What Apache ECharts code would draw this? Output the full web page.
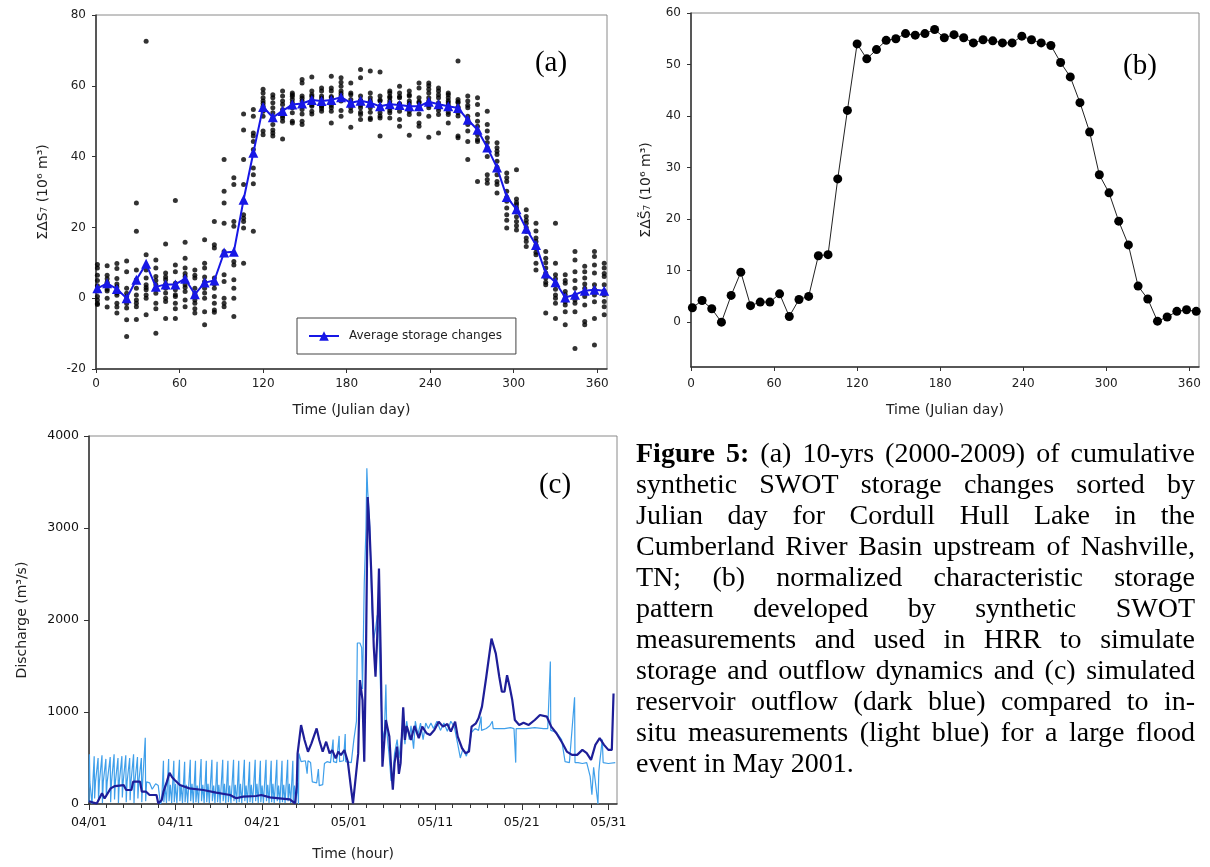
<!DOCTYPE html>
<html><head><meta charset="utf-8">
<script src="https://cdn.jsdelivr.net/npm/echarts@6/dist/echarts.min.js"></script>
<style>html,body{margin:0;padding:0;background:#fff}#main{width:1210px;height:867px}</style>
</head><body><div id="main"></div>
<script>
// ---------- DATA ----------
// Julian day of each 7-day bin (panels a, b)
const binDays = [1,8,15,22,29,36,43,50,57,64,71,78,85,92,99,106,113,120,127,134,141,148,155,162,169,176,183,190,197,204,211,218,225,232,239,246,253,260,267,274,281,288,295,302,309,316,323,330,337,344,351,358,365];
// average storage change per bin (10^6 m3)
const avgStorage = [2.8,4.2,2.6,0,5.2,9.7,3.2,3.9,3.9,5.5,1.1,4.4,5.0,12.9,13.1,27.8,41.1,54.0,51.1,52.9,54.7,55.0,56.0,55.7,56.0,56.8,55.2,55.8,55.2,54.2,54.8,54.6,54.2,54.2,55.5,54.8,54.2,53.7,50.4,47.6,42.6,36.9,28.6,25.1,19.6,15.0,7.0,4.5,0.2,1.0,2.1,2.4,2.1];
// normalized characteristic storage pattern (b)
const normPattern = [2.8,4.2,2.6,0,5.2,9.7,3.2,3.9,3.9,5.5,1.1,4.4,5.0,12.9,13.1,27.8,41.1,54.0,51.1,52.9,54.7,55.0,56.0,55.7,56.0,56.8,55.2,55.8,55.2,54.2,54.8,54.6,54.2,54.2,55.5,54.8,54.2,53.7,50.4,47.6,42.6,36.9,28.6,25.1,19.6,15.0,7.0,4.5,0.2,1.0,2.1,2.4,2.1];
// yearly (2000-2009) values per bin
const yearlyByBin = [
[9.5,8.5,6.5,5,3.5,2,0.5,-0.5,-1.5,-1.8],
[9.2,6.5,5.5,4.5,4,3.5,2.5,2,0,-2.5],
[9.8,8.4,5.6,4,3.2,1.5,0.8,-1.4,-2.5,-4.2],
[10.5,7.5,2.8,1.4,0.5,-0.5,-1.5,-2.8,-6.1,-10.8],
[26.9,18.9,8,5.2,2.8,0.9,-0.5,-1.4,-2.4,-6],
[72.6,12.3,8,5.7,3.8,3,2.4,0.9,0,-4.7],
[10.8,8.5,6.1,5,3.8,2.5,1.4,-1.4,-3,-9.9],
[15.3,7.1,6,5.2,4,2.8,1.5,0,-0.9,-5.7],
[27.6,9.4,7.5,4.2,2.4,1,0.5,-1.4,-3,-5.7],
[15.8,11.3,8.5,7,6.1,3.8,3,1.9,-0.5,-2.4],
[8,6.5,5.7,2.8,1.5,0.9,-0.5,-1.4,-3,-4.2],
[16.5,9.9,8.5,6,4.7,2.8,1.5,0,-3.8,-7.5],
[21.7,15.1,14.2,5.7,4,2.8,0.5,-1.4,-3.3,-4],
[39.2,30.2,26.9,21.2,13.2,6.6,4.7,0,-1.4,-2.4],
[34,32.1,21.7,20.3,10.4,9.4,5.2,2.8,0,-5.2],
[52,47.5,39.2,32.1,27.4,23.6,22.6,21.7,19.8,9.9],
[53.3,51.4,46.7,45.8,44.3,42,36.8,34.9,32.3,18.9],
[59,58,56.6,55.7,55,54.2,52.8,51.4,47.2,46.2],
[57.5,56.6,55.2,53.8,52.4,50.9,49.1,47.5,46.7,45.8],
[58.5,57.1,55.7,54.7,53.3,52.4,51.5,50.9,50,45],
[58,57.5,57,56.1,55.2,54.5,53.8,52.4,50,49.5],
[61.8,60.8,57.1,56.5,55.7,54.2,53.3,52,50,49.1],
[62.5,58.5,57.5,57,56.1,55.2,54.6,54.2,52.8,52],
[59.4,58.5,57.1,56.5,55.7,55,54.2,53.5,52.8,54.3],
[62.7,59.4,58.5,57,56.6,55.2,54.5,53.8,52.8,49.5],
[62.3,61,59.9,58.5,57.8,57.1,56.5,55.7,53,51.4],
[60.8,58,57.5,56.1,55.2,55,54.5,53.8,52.8,48.3],
[64.6,62.3,57.1,56,55.7,54.5,53.8,52.5,51.9,50.5],
[64.2,58,56.6,55.8,55.2,54.5,53.8,52.5,50.9,50.5],
[63.9,57.1,56,55.7,54.2,53.5,52.4,51.5,50.9,45.8],
[58.5,58,57,56.6,55.7,55,53.8,53,52.4,50.9],
[59.9,58,57,56.6,55,54.7,54,52.8,50.5,48.6],
[58.5,57.5,57.1,55.7,55,54.2,53.5,52.8,51.9,46],
[60.8,59.4,56.6,55.5,55.2,54,53.8,52,49.5,48.6],
[60.8,60,59,58,56.6,55.7,54.5,53.8,51.4,45.5],
[59.4,58.5,57.5,56.6,55.2,54.5,53.8,53,51.9,46.7],
[58,57.5,56.6,55.8,55.2,54.5,53.8,52.5,51.9,49.5],
[67,56.1,55.5,55.2,54,53.8,52.4,51.5,45.8,45.3],
[57.1,55.7,54.5,53.8,51.4,50.5,49.1,47.2,44.3,39.2],
[56.6,54.7,51.9,50,48.6,47,46.2,44.8,44.3,33],
[52.8,49.1,47.2,45.3,44,42.5,40,34.9,33.5,32.5],
[43.9,42.5,41.5,40.6,38.7,37,34.9,33,32.1,29.7],
[35.4,34,33,30.2,28.5,27.4,25.5,23.6,22,19.8],
[36.3,28,27,26.4,25.5,24.5,23,21.7,20.5,19.3],
[25,23.1,22,21.2,20,19,18.9,17,16,14.6],
[21.2,19,17,16,15,14.2,13,12.3,9.9,8],
[13.2,11.3,10,8.5,7.1,6.5,5.7,4.5,3.8,-4.2],
[21.2,9.9,6.6,5.5,3.8,2.5,0.9,0,-1.4,-5.7],
[6.6,5,4.2,1.9,1,0,-1,-1.9,-3.8,-7.5],
[13.2,10.8,7.5,5,2.8,0.9,-0.5,-1.4,-3.8,-14.2],
[9,7.5,5.7,4,2.8,1.5,0.5,-1.9,-6.6,-7.5],
[13.2,11.8,9.4,7.1,3.8,2.5,0.9,-1,-5.7,-13.2],
[9.9,8.5,7,6.1,3.8,2,0.9,-0.9,-2.4,-4.7]
];
const dayTicks = [0,60,120,180,240,300,360];
const bYTicks = [0,10,20,30,40,50,60];
// panel (c): [days since 04/01 00:00, discharge m3/s]
const measuredFlow = [
[0,20],[0.05,540],[0.1,240],[0.3,240],[0.35,0],[0.45,240],[0.6,520],[0.65,60],[0.75,240],
[1.05,500],[1.1,30],[1.2,240],[1.5,530],[1.55,10],[1.65,240],[1.95,490],[2.0,80],[2.1,240],
[2.45,510],[2.5,20],[2.6,240],[2.9,540],[2.95,50],[3.05,240],[3.35,500],[3.4,10],[3.5,240],
[3.8,520],[3.85,70],[3.95,240],[4.25,530],[4.3,20],[4.4,240],[4.7,500],[4.75,40],[4.85,240],
[5.15,540],[5.2,10],[5.3,240],[5.6,510],[5.65,60],[5.75,240],[6.05,500],[6.1,20],[6.2,240],
[6.5,720],[6.55,30],[6.65,240],[7.0,230],[7.3,160],[7.7,220],[8.0,200],[8.25,0],[8.4,30],
[8.6,470],[8.65,20],[8.8,200],[8.95,10],[9.2,490],[9.25,30],[9.4,210],[9.55,10],[9.8,470],[9.85,20],
[10.0,220],[10.15,10],[10.45,480],[10.5,30],[10.65,200],[10.8,10],[11.05,460],[11.1,20],[11.25,210],[11.4,10],
[11.7,480],[11.75,30],[11.9,220],[12.05,10],[12.3,470],[12.35,20],[12.5,200],[12.65,10],[12.95,490],[13.0,30],
[13.15,210],[13.3,10],[13.55,470],[13.6,20],[13.75,220],[13.9,10],[14.2,480],[14.25,30],[14.4,200],[14.55,10],
[14.8,460],[14.85,20],[15.0,210],[15.15,10],[15.45,480],[15.5,30],[15.65,220],[15.8,10],[16.05,470],[16.1,20],
[16.25,200],[16.4,10],[16.7,480],[16.75,30],[16.9,210],[17.05,10],[17.3,470],[17.35,20],[17.5,220],[17.65,10],
[17.95,480],[18.0,30],[18.15,200],[18.3,10],[18.55,460],[18.6,20],[18.75,210],[18.9,10],[19.2,480],[19.25,30],
[19.4,220],[19.55,10],[19.8,470],[19.85,20],[20.0,200],[20.15,10],[20.45,480],[20.5,30],[20.65,210],[20.8,10],
[21.05,470],[21.1,20],[21.25,220],[21.4,10],[21.7,480],[21.75,30],[21.9,200],[22.05,10],[22.3,470],[22.35,20],
[22.5,210],[22.65,10],[22.95,480],[23.0,30],[23.15,220],[23.3,10],[23.55,470],[23.6,20],[23.75,200],[23.9,10],
[24.1,230],[24.2,0],[24.25,550],[24.5,460],[25.0,470],[25.2,330],[25.3,470],[25.6,450],[25.8,240],[26.3,230],
[26.5,380],[26.6,200],[27.0,210],[27.2,440],[27.5,460],[27.9,450],[28.2,700],[28.25,460],[28.6,450],[28.9,740],
[28.95,460],[29.4,470],[29.6,760],[29.65,460],[30.3,450],[30.5,440],[30.6,700],[30.9,900],[31.0,1750],[31.3,1750],
[31.5,1700],[31.6,1250],[31.8,2400],[32.0,3000],[32.1,3650],[32.2,3400],[32.4,3100],[32.5,2800],[32.7,2100],[32.9,1800],
[33.1,1900],[33.3,2050],[33.5,1850],[33.7,1200],[33.9,800],[34.1,700],[34.3,1300],[34.4,800],[34.7,500],[34.9,250],
[35.1,300],[35.3,550],[35.6,700],[35.8,500],[36.0,650],[36.3,850],[36.5,650],[36.7,900],[37.0,700],[37.2,850],
[37.5,600],[37.7,900],[38.0,750],[38.3,880],[38.6,700],[38.9,880],[39.2,820],[39.5,880],[39.8,820],[40.2,900],
[40.6,800],[41.0,880],[41.4,790],[41.8,900],[42.2,840],[42.6,650],[42.9,500],[43.2,600],[43.6,520],[43.9,620],
[44.2,780],[44.6,820],[45.0,800],[45.3,950],[45.35,800],[45.9,820],[46.3,850],[46.6,900],[46.7,820],[47.5,820],
[48.0,820],[48.7,830],[49.1,820],[49.3,450],[49.35,820],[50.5,820],[51.5,830],[52.5,820],[53.0,820],[53.3,1550],
[53.35,800],[54.0,780],[54.6,700],[55.0,460],[55.5,450],[56.1,1160],[56.15,450],[56.5,450],[57.0,440],[57.5,450],
[57.9,300],[58.1,100],[58.3,400],[58.8,0],[58.9,350],[59.0,450],[59.3,700],[59.4,450],[60.0,440],[60.8,450]
];
const simulatedFlow = [
[0,30],[0.5,15],[0.9,5],[1.5,116],[1.8,60],[2.0,43],[2.5,170],[3.0,195],[4.0,206],[4.2,200],[4.3,152],[4.9,152],
[5.1,243],[5.9,243],[6.1,134],[6.6,134],[7.0,98],[7.8,98],[8.0,7],[8.4,43],[8.6,134],[9.0,243],[9.3,340],[9.6,290],
[9.9,260],[10.5,206],[11.6,170],[13.2,152],[14.7,123],[16.3,98],[17.0,62],[17.8,80],[19.3,87],[19.9,98],[20.9,72],
[22.0,62],[23.2,51],[23.8,7],[24.0,188],[24.1,550],[24.5,858],[24.9,695],[25.3,568],[25.7,659],[26.3,822],[26.6,695],
[27.0,568],[27.4,677],[27.8,550],[28.1,586],[28.5,496],[28.8,568],[29.1,532],[29.5,586],[29.9,460],[30.3,152],[30.5,7],
[30.7,0],[31.1,550],[31.3,1347],[31.6,1130],[31.8,460],[32.0,1636],[32.2,3337],[32.4,3012],[32.6,2541],[32.9,1709],
[33.1,1383],[33.3,1817],[33.5,2560],[33.7,1636],[33.9,405],[34.1,390],[34.3,913],[34.7,733],[34.9,408],[35.1,155],
[35.3,444],[35.6,624],[35.8,328],[36.0,444],[36.3,1050],[36.5,697],[36.7,848],[37.2,697],[37.6,848],[38.1,715],
[38.5,841],[39.0,769],[39.4,751],[39.9,805],[40.4,895],[40.9,841],[41.4,870],[41.8,787],[42.3,895],[42.6,733],
[43.1,606],[43.5,552],[43.9,570],[44.2,841],[44.7,877],[45.0,931],[45.4,1058],[45.9,1383],[46.5,1798],[47.0,1635],
[47.4,1383],[47.7,1220],[48.0,1220],[48.3,1400],[48.6,1274],[48.9,1130],[49.2,913],[49.7,859],[50.2,884],[50.8,859],
[51.5,913],[52.1,967],[52.9,949],[53.4,841],[54.0,769],[54.7,660],[55.2,570],[55.8,534],[56.4,534],[57.0,588],
[57.5,552],[58.0,480],[58.5,643],[59.0,715],[59.5,643],[60.0,588],[60.4,588],[60.6,1202]
];
const cDayTicks = [0,10,20,30,40,50,60];
const cTickLabels = ['04/01','04/11','04/21','05/01','05/11','05/21','05/31'];
const cMinorTicks = [0,2,4,6,8,10,12,14,16,18,20,22,24,26,28,30,32,34,36,38,40,42,44,46,48,50,52,54,56,58,60];
const captionLines = [
 'Figure 5: (a) 10-yrs (2000-2009) of cumulative',
 'synthetic SWOT storage changes sorted by',
 'Julian day for Cordull Hull Lake in the',
 'Cumberland River Basin upstream of Nashville,',
 'TN; (b) normalized characteristic storage',
 'pattern developed by synthetic SWOT',
 'measurements and used in HRR to simulate',
 'storage and outflow dynamics and (c) simulated',
 'reservoir outflow (dark blue) compared to in-',
 'situ measurements (light blue) for a large flood',
 'event in May 2001.'
];

// ---------- CHART ----------
const SANS = '"DejaVu Sans", Verdana, sans-serif';
const SERIF = '"Liberation Serif", "Times New Roman", serif';
const chart = echarts.init(document.getElementById('main'), null, {renderer: 'canvas'});

const yearlyPoints = [];
yearlyByBin.forEach((vals, i) => vals.forEach(v => yearlyPoints.push([binDays[i], v])));

function axisCommon(extra) {
  return Object.assign({
    type: 'value',
    axisLine: {show: true, onZero: false, lineStyle: {color: '#333', width: 1.5}},
    splitLine: {show: false},
    axisLabel: {fontSize: 12, color: '#222', fontFamily: SANS},
    nameTextStyle: {fontSize: 14, color: '#222', fontFamily: SANS},
    nameLocation: 'middle'
  }, extra);
}

// caption words, justified
function captionGraphics() {
  const els = [];
  const ctx = document.createElement('canvas').getContext('2d');
  const left = 636, right = 1195, top = 455, step = 31, size = 28;
  captionLines.forEach((line, li) => {
    const words = line.split(' ');
    const fonts = words.map((w, wi) => (li === 0 && wi < 2 ? 'bold ' : '') + size + 'px ' + SERIF);
    const widths = words.map((w, wi) => { ctx.font = fonts[wi]; return ctx.measureText(w).width; });
    const total = widths.reduce((a, b) => a + b, 0);
    ctx.font = size + 'px ' + SERIF;
    const isLast = li === captionLines.length - 1;
    const gap = isLast ? ctx.measureText(' ').width : (right - left - total) / (words.length - 1);
    let x = left;
    words.forEach((w, wi) => {
      els.push({type: 'text', x: x, y: top + li * step, silent: true,
        style: {text: w, font: fonts[wi], fill: '#000', align: 'left', verticalAlign: 'middle'}});
      x += widths[wi] + gap;
    });
  });
  return els;
}

const option = {
  animation: false,
  backgroundColor: '#fff',
  textStyle: {fontFamily: SANS},
  grid: [
    {left: 96, top: 15, width: 511, height: 354, show: true, borderColor: '#8a8a8a', borderWidth: 1, backgroundColor: 'transparent'},
    {left: 691, top: 13, width: 508, height: 354, show: true, borderColor: '#8a8a8a', borderWidth: 1, backgroundColor: 'transparent'},
    {left: 89, top: 436, width: 528, height: 368, show: true, borderColor: '#8a8a8a', borderWidth: 1, backgroundColor: 'transparent'}
  ],
  legend: {
    data: ['Average storage changes'],
    left: 297, top: 318,
    padding: [12, 14, 12, 11],
    itemWidth: 30, itemHeight: 12,
    borderColor: '#444', borderWidth: 1, borderRadius: 0,
    backgroundColor: '#fff',
    textStyle: {fontSize: 12, color: '#222', fontFamily: SANS, padding: [0, 0, 0, 5]}
  },
  xAxis: [
    axisCommon({gridIndex: 0, min: 0, max: 367, position: 'bottom',
      axisTick: {show: true, length: 4, customValues: dayTicks, lineStyle: {color: '#333'}},
      axisLabel: {fontSize: 12, color: '#222', fontFamily: SANS, margin: 9, customValues: dayTicks},
      name: 'Time (Julian day)', nameGap: 34}),
    axisCommon({gridIndex: 1, min: 0, max: 367, position: 'bottom',
      axisTick: {show: true, length: 4, customValues: dayTicks, lineStyle: {color: '#333'}},
      axisLabel: {fontSize: 12, color: '#222', fontFamily: SANS, margin: 11, customValues: dayTicks},
      name: 'Time (Julian day)', nameGap: 36}),
    axisCommon({gridIndex: 2, min: 0, max: 61, position: 'bottom',
      axisTick: {show: true, length: 6, customValues: cDayTicks, lineStyle: {color: '#333'}},
      axisLabel: {fontSize: 12.5, color: '#111', fontFamily: SANS, margin: 12, customValues: cDayTicks,
        formatter: v => cTickLabels[Math.round(v / 10)]},
      name: 'Time (hour)', nameGap: 43}),
    {type: 'value', gridIndex: 2, min: 0, max: 61, position: 'bottom',
      axisLine: {show: false}, splitLine: {show: false}, axisLabel: {show: false},
      axisTick: {show: true, length: 4, customValues: cMinorTicks, lineStyle: {color: '#333'}}}
  ],
  yAxis: [
    axisCommon({gridIndex: 0, min: -20, max: 80, interval: 20,
      axisTick: {show: true, length: 4, lineStyle: {color: '#333'}},
      axisLabel: {fontSize: 12, color: '#222', fontFamily: SANS, margin: 10},
      name: 'ΣΔS\u2087 (10\u2076 m\u00b3)', nameGap: 46}),
    axisCommon({gridIndex: 1, min: -8.7, max: 60,
      axisTick: {show: true, length: 4, customValues: bYTicks, lineStyle: {color: '#333'}},
      axisLabel: {fontSize: 12, color: '#222', fontFamily: SANS, margin: 10, customValues: bYTicks},
      name: 'ΣΔS\u0303\u2087 (10\u2076 m\u00b3)', nameGap: 38}),
    axisCommon({gridIndex: 2, min: 0, max: 4000, interval: 1000,
      axisTick: {show: true, length: 5, lineStyle: {color: '#333'}},
      axisLabel: {fontSize: 12.5, color: '#111', fontFamily: SANS, margin: 10, formatter: v => String(v)},
      name: 'Discharge (m\u00b3/s)', nameGap: 60})
  ],
  series: [
    {name: 'Yearly storage changes', type: 'scatter', xAxisIndex: 0, yAxisIndex: 0,
      data: yearlyPoints, symbol: 'circle', symbolSize: 5, itemStyle: {color: '#000'}, z: 2},
    {name: 'Average storage changes', type: 'line', xAxisIndex: 0, yAxisIndex: 0,
      data: binDays.map((d, i) => [d, avgStorage[i]]),
      symbol: 'triangle', symbolSize: 10, lineStyle: {color: '#1717e6', width: 2},
      itemStyle: {color: '#1717e6'}, z: 3},
    {name: 'Characteristic storage pattern', type: 'line', xAxisIndex: 1, yAxisIndex: 1,
      data: binDays.map((d, i) => [d, normPattern[i]]),
      symbol: 'circle', symbolSize: 9, lineStyle: {color: '#222', width: 1},
      itemStyle: {color: '#000'}, z: 3},
    {name: 'In-situ measurements', type: 'line', xAxisIndex: 2, yAxisIndex: 2,
      data: measuredFlow, showSymbol: false, symbol: 'none',
      lineStyle: {color: '#3f9fea', width: 1.2}, z: 2},
    {name: 'Simulated outflow', type: 'line', xAxisIndex: 2, yAxisIndex: 2,
      data: simulatedFlow, showSymbol: false, symbol: 'none',
      lineStyle: {color: '#1e1e98', width: 2.2}, z: 3}
  ],
  graphic: [
    {type: 'text', x: 551, y: 63, silent: true, style: {text: '(a)', font: '29px ' + SERIF, fill: '#000', align: 'center', verticalAlign: 'middle'}},
    {type: 'text', x: 1140, y: 66, silent: true, style: {text: '(b)', font: '29px ' + SERIF, fill: '#000', align: 'center', verticalAlign: 'middle'}},
    {type: 'text', x: 555, y: 485, silent: true, style: {text: '(c)', font: '29px ' + SERIF, fill: '#000', align: 'center', verticalAlign: 'middle'}}
  ].concat(captionGraphics())
};
chart.setOption(option);
</script></body></html>
